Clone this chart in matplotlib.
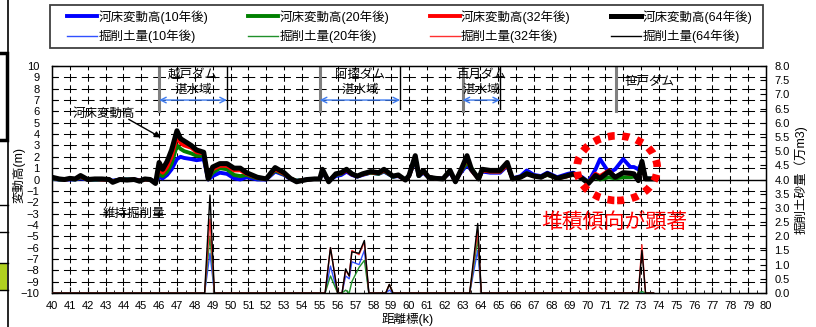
import numpy as np
import matplotlib.pyplot as plt
from matplotlib.patches import Ellipse, Rectangle
from matplotlib.lines import Line2D

plt.rcParams['font.family'] = ['Liberation Sans', 'Noto Sans CJK JP']
plt.rcParams['lines.scale_dashes'] = False

# 河床変動高 (m) along the river
km = [40.0, 40.4, 40.7, 41.0, 41.3, 41.6, 42.0, 42.4, 42.8, 43.2,
      43.4, 43.8, 44.2, 44.6, 44.9, 45.2, 45.5, 45.8, 46.0, 46.2,
      46.45, 46.7, 47.0, 47.2, 47.4, 47.8, 48.1, 48.5, 48.75, 49.0,
      49.4, 49.8, 50.2, 50.55, 50.9, 51.5, 52.0, 52.5, 53.0, 53.35,
      53.7, 54.3, 54.7, 55.0, 55.15, 55.5, 55.9, 56.2, 56.5, 56.8,
      57.1, 57.4, 57.85, 58.3, 58.6, 59.1, 59.4, 59.8, 60.0, 60.35,
      60.55, 60.8, 61.1, 61.5, 61.9, 62.3, 62.6, 62.9, 63.25, 63.5,
      63.9, 64.1, 64.55, 65.1, 65.5, 65.8, 66.25, 66.6, 67.0, 67.4,
      67.75, 68.3, 68.9, 69.2, 69.7, 70.05, 70.45, 70.7, 71.2, 71.55,
      72.0, 72.4, 72.6, 72.85, 73.05, 73.25, 73.7]

bed_10 = [0.05, 0.0, 0.0, 0.0, 0.0, 0.1, 0.0, 0.0, 0.0, 0.0,
          -0.1, 0.0, 0.0, 0.0, -0.05, 0.0, 0.0, -0.2, 0.2, 0.1,
          0.4, 0.9, 1.8, 2.0, 1.9, 1.8, 1.7, 1.8, 0.0, 0.3,
          0.6, 0.5, 0.1, 0.0, 0.2, 0.0, 0.0, 0.7, 0.4, 0.05,
          -0.1, 0.0, 0.05, 0.05, 0.6, -0.1, 0.3, 0.4, 0.7, 0.4,
          0.25, 0.4, 0.6, 0.5, 0.7, 0.25, 0.3, 0.0, 0.3, 1.7,
          0.3, 0.6, 0.2, 0.1, 0.1, 0.6, -0.1, 0.6, 1.3, 0.8,
          0.1, 0.7, 0.6, 0.6, 1.2, 0.1, 0.3, 0.8, 0.4, 0.3,
          0.6, 0.2, 0.5, 0.6, 0.2, -0.2, 0.9, 1.8, 0.6, 0.9,
          1.8, 1.1, 1.1, 0.9, 1.5, 0.1, 0.05]

bed_20 = [0.1, 0.0, 0.0, 0.05, 0.0, 0.2, 0.0, 0.0, 0.0, 0.0,
          -0.15, 0.0, 0.0, 0.0, -0.1, 0.0, 0.0, -0.25, 0.5, 0.3,
          0.7, 1.4, 3.0, 2.7, 2.5, 2.3, 2.1, 2.1, 0.05, 0.6,
          1.0, 0.9, 0.4, 0.3, 0.4, 0.1, 0.05, 0.8, 0.45, 0.1,
          -0.1, 0.0, 0.05, 0.05, 0.7, -0.1, 0.4, 0.5, 0.9, 0.5,
          0.3, 0.45, 0.6, 0.5, 0.75, 0.25, 0.35, 0.0, 0.3, 1.8,
          0.3, 0.7, 0.2, 0.1, 0.05, 0.7, -0.1, 0.7, 1.5, 1.0,
          0.05, 0.8, 0.7, 0.7, 1.3, 0.05, 0.2, 0.55, 0.3, 0.2,
          0.4, 0.1, 0.3, 0.4, 0.1, -0.2, 0.2, 0.0, 0.2, 0.1,
          0.2, 0.2, 0.25, 0.3, 1.4, 0.1, 0.05]

bed_32 = [0.15, 0.05, 0.0, 0.05, 0.05, 0.25, 0.0, 0.05, 0.0, 0.0,
          -0.2, 0.0, -0.05, 0.0, -0.1, 0.0, 0.0, -0.3, 0.9, 0.6,
          1.1, 2.0, 3.8, 3.2, 3.0, 2.8, 2.4, 2.3, 0.05, 0.9,
          1.2, 1.2, 0.8, 0.8, 0.5, 0.15, 0.05, 0.9, 0.5, 0.1,
          -0.15, 0.0, 0.05, 0.05, 0.8, -0.15, 0.45, 0.55, 0.8, 0.45,
          0.3, 0.45, 0.65, 0.55, 0.8, 0.3, 0.35, -0.05, 0.3, 1.9,
          0.35, 0.7, 0.2, 0.1, 0.05, 0.7, -0.15, 0.7, 1.9, 0.8,
          0.05, 0.8, 0.7, 0.7, 1.3, 0.05, 0.2, 0.5, 0.3, 0.2,
          0.45, 0.1, 0.3, 0.45, 0.1, -0.3, 0.5, 0.3, 0.8, 0.2,
          0.6, 0.5, 0.5, -0.05, 1.5, 0.05, 0.05]

bed_64 = [0.2, 0.05, 0.0, 0.1, 0.05, 0.35, 0.0, 0.05, 0.05, 0.0,
          -0.25, 0.0, -0.05, 0.0, -0.15, 0.05, 0.0, -0.35, 1.5, 0.9,
          1.6, 2.6, 4.3, 3.6, 3.4, 3.0, 2.6, 2.4, 0.05, 1.1,
          1.4, 1.4, 1.0, 1.0, 0.6, 0.2, 0.05, 1.05, 0.6, 0.1,
          -0.2, 0.0, 0.05, 0.05, 0.9, -0.2, 0.5, 0.6, 0.9, 0.5,
          0.3, 0.5, 0.7, 0.6, 0.9, 0.3, 0.4, -0.05, 0.35, 2.1,
          0.35, 0.8, 0.2, 0.1, 0.05, 0.8, -0.2, 0.8, 2.1, 0.9,
          0.05, 0.9, 0.8, 0.8, 1.5, 0.05, 0.2, 0.5, 0.3, 0.2,
          0.5, 0.1, 0.35, 0.5, 0.1, -0.35, 0.35, 0.1, 0.7, 0.2,
          0.6, 0.55, 0.5, -0.1, 1.6, 0.05, 0.05]

# 掘削土量 (万m3), right axis
exc_km = [40.0, 48.55, 48.85, 49.1, 55.3, 55.6, 56.0, 56.25, 56.45, 56.65,
          56.8, 57.2, 57.5, 57.75, 58.7, 58.9, 59.1, 63.4, 63.85, 64.05,
          72.85, 73.05, 73.25, 73.7]
exc_10 = [0, 0, 1.4, 0, 0, 0.95, 0, 0, 0.6, 0.5,
          1.1, 1.0, 1.5, 0, 0, 0.1, 0, 0, 1.5, 0,
          0, 0, 0, 0]
exc_20 = [0, 0, 2.0, 0, 0, 0.6, 0, 0, 0.1, 0.0,
          0.4, 0.9, 1.15, 0, 0, 0.3, 0, 0, 1.9, 0,
          0, 0.05, 0, 0]
exc_32 = [0, 0, 2.6, 0, 0, 1.6, 0, 0, 0.8, 0.6,
          1.5, 1.35, 1.8, 0, 0, 0.3, 0, 0, 2.2, 0,
          0, 1.7, 0, 0]
exc_64 = [0, 0, 3.45, 0, 0, 1.6, 0, 0, 0.85, 0.6,
          1.45, 1.4, 1.85, 0, 0, 0.3, 0, 0, 2.45, 0,
          0, 1.5, 0, 0]

years = ['10年後', '20年後', '32年後', '64年後']
thick_colors = ['#0000ff', '#008000', '#ff0000', '#000000']
thin_colors = ['#3050ff', '#20902a', '#ff3030', '#000000']

# dam reaches: (start km, end km or None, name)
dams = [(46.0, 49.8, '越戸ダム'), (55.0, 59.5, '阿摺ダム'),
        (63.0, 65.1, '百月ダム'), (71.6, None, '笹戸ダム')]

W, H = 816, 327
fig = plt.figure(figsize=(W / 100, H / 100), dpi=100)


def fx(p):
    return p / W


def fy(p):
    return 1 - p / H


ax = fig.add_axes([fx(52), fy(293), 714 / W, 227 / H])
ax.set_xlim(40, 80)
ax.set_ylim(-10, 10)

# dashed grid, dashes sitting on the crossings
xstep = 17.85 * 0.72
ystep = 11.35 * 0.72
for x in range(41, 80):
    ax.axvline(x, color='k', lw=0.75, ls=(2.8, (5.6, ystep - 5.6)), zorder=0.5)
for y in range(-9, 10):
    if y == 0:
        continue
    ax.axhline(y, color='k', lw=0.75, ls=(4.6, (9.2, xstep - 9.2)), zorder=0.5)
ax.axhline(0, color='k', lw=1.0, zorder=1)

beds = [bed_10, bed_20, bed_32, bed_64]
bed_lw = [2.8, 2.8, 2.8, 3.6]
bed_handles = []
for vals, c, lw, yr in zip(beds, thick_colors, bed_lw, years):
    h, = ax.plot(km, vals, color=c, lw=lw, solid_joinstyle='round', zorder=3,
                 label='河床変動高(' + yr + ')')
    bed_handles.append(h)

# dam reaches
for start, end, name in dams:
    ax.plot([start, start], [6.0, 10], color='#808080', lw=2.2, zorder=2)
    if end is not None:
        ax.plot([end, end], [6.2, 10], color='k', lw=1.0, zorder=2)
        ax.annotate('', xy=(start, 7), xytext=(end, 7),
                    arrowprops=dict(arrowstyle='<->', color='#3d7bf0', lw=1,
                                    shrinkA=0, shrinkB=0, mutation_scale=10))
        mid = (start + end) / 2
        ax.text(mid, 9.2, name, ha='center', va='center', fontsize=9, zorder=4)
        ax.text(mid, 7.9, '湛水域', ha='center', va='center', fontsize=9, zorder=4)
    else:
        ax.text(73.45, 8.6, name, ha='center', va='center', fontsize=9, zorder=4)

ax.text(42.9, 5.8, '河床変動高', ha='center', va='center', fontsize=9, zorder=4)
ax.annotate('', xy=(46.1, 3.7), xytext=(44.3, 5.3),
            arrowprops=dict(arrowstyle='-|>', color='k', lw=1,
                            shrinkA=0, shrinkB=0, mutation_scale=9))
ax.text(44.6, -3.0, '維持掘削量', ha='center', va='center', fontsize=9, zorder=4)

ax.add_patch(Ellipse((71.66, 1.0), 4.5, 5.7, fill=False, edgecolor='#ff0000',
                     lw=5.5, ls=(0, (5.0, 5.5)), capstyle='butt', zorder=5))
ax.text(71.48, -3.7, '堆積傾向が顕著', ha='center', va='center', fontsize=15,
        color='#ff0000', zorder=5)

ax.set_xticks(range(40, 81))
ax.set_xticks(np.arange(40, 80, 0.5), minor=True)
ax.set_yticks(range(-10, 11))
ax.tick_params(axis='x', direction='in', length=4, labelsize=8, pad=6)
ax.tick_params(axis='x', which='minor', direction='in', length=2.5)
ax.tick_params(axis='y', direction='in', length=4, labelsize=8, pad=9)
for s in ax.spines.values():
    s.set_linewidth(1.0)

ax2 = ax.twinx()
ax2.set_ylim(0, 8)
exc_handles = []
for vals, c, yr in zip([exc_10, exc_20, exc_32, exc_64], thin_colors, years):
    h, = ax2.plot(exc_km, vals, color=c, lw=1.0, zorder=3,
                  label='掘削土量(' + yr + ')')
    exc_handles.append(h)
ax2.set_yticks(np.arange(0, 8.01, 0.5))
ax2.set_yticklabels(['%.1f' % v for v in np.arange(0, 8.01, 0.5)])
ax2.tick_params(axis='y', direction='in', length=4, labelsize=8, pad=6)

fig.text(fx(19), fy(175), '変動高(m)', rotation=90, ha='center', va='center', fontsize=9)
fig.text(fx(801), fy(180), '掘削土砂量（万m3)', rotation=90, ha='center', va='center',
         fontsize=9)
fig.text(fx(408), fy(320), '距離標(k)', ha='center', va='center', fontsize=9)

# legend: columns read 10/20/32/64 years, rows bed change / excavation
handles = []
for hb, he in zip(bed_handles, exc_handles):
    handles += [hb, he]
fig.legend(handles=handles, labels=[h.get_label() for h in handles], ncol=4,
           loc='center', mode='expand', frameon=False, fontsize=9,
           bbox_to_anchor=(fx(67), fy(48), 685 / W, 43 / H),
           borderpad=0, handlelength=2.4, handletextpad=0.1,
           labelspacing=0.45, borderaxespad=0)
fig.add_artist(Rectangle((fx(50), fy(48)), 713 / W, 43 / H, transform=fig.transFigure,
                         fill=False, edgecolor='#404040', lw=1.3))

# bits of the neighbouring panel on the left edge
fig.add_artist(Line2D([fx(7.5), fx(7.5)], [0, 1], transform=fig.transFigure,
                      color='k', lw=1.2))
fig.add_artist(Rectangle((fx(-3), fy(140)), 9.5 / W, 87 / H, transform=fig.transFigure,
                         fill=False, edgecolor='k', lw=2.5))
fig.add_artist(Rectangle((0, fy(290)), 6.5 / W, 27 / H, transform=fig.transFigure,
                         facecolor='#b0d020', edgecolor='none'))
for yp in [205, 232, 263, 290]:
    fig.add_artist(Line2D([0, fx(7.5)], [fy(yp), fy(yp)], transform=fig.transFigure,
                          color='k', lw=1.0))

fig.savefig('out.png', dpi=100)
